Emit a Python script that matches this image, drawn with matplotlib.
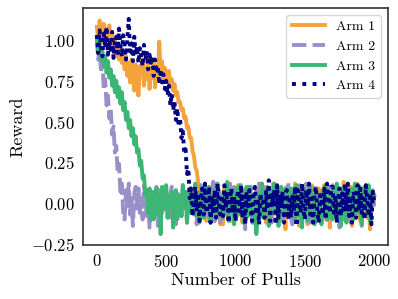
import numpy as np
import matplotlib
matplotlib.use("Agg")
import matplotlib.pyplot as plt
from matplotlib.lines import Line2D

# Computer Modern look, like the LaTeX rendered original
plt.rcParams["font.family"] = "serif"
plt.rcParams["font.serif"] = ["cmr10"]
plt.rcParams["mathtext.fontset"] = "cm"
plt.rcParams["axes.formatter.use_mathtext"] = True
plt.rcParams["axes.unicode_minus"] = True

# reward read every 10 pulls (one row = 100 pulls)
pulls = np.arange(0, 2001, 10)

arm1 = [1.08, 1.00, 1.12, 0.98, 1.05, 1.10, 0.99, 1.07, 1.02, 1.09,
        0.97, 1.04, 0.93, 1.01, 0.90, 0.97, 0.88, 0.95, 0.86, 0.93,
        0.82, 0.90, 0.78, 0.86, 0.74, 0.88, 0.80, 0.69, 0.85, 0.77,
        0.66, 0.84, 0.79, 0.88, 0.72, 0.83, 0.76, 0.90, 0.70, 0.82,
        0.77, 0.86, 0.71, 0.84, 0.78, 0.99, 0.80, 0.87, 0.75, 0.83,
        0.79, 0.74, 0.81, 0.72, 0.76, 0.69, 0.73, 0.66, 0.68, 0.62,
        0.62, 0.57, 0.58, 0.52, 0.53, 0.46, 0.47, 0.40, 0.40, 0.32,
        0.29, 0.22, 0.20, 0.13, 0.10, 0.04, 0.06, -0.05, 0.08, -0.11,
        0.01, -0.09, 0.07, -0.04, 0.13, -0.11, 0.05, -0.01, 0.08, -0.13,
        0.06, -0.13, 0.09, -0.02, 0.05, -0.08, 0.11, -0.11, 0.03, 0.07,
        0.05, -0.08, 0.11, -0.03, 0.07, -0.12, 0.02, 0.09, -0.06, 0.04,
        0.10, -0.06, 0.05, -0.12, 0.02, 0.09, -0.08, 0.06, -0.04, 0.12,
        -0.03, 0.10, -0.12, 0.04, -0.05, 0.08, -0.09, 0.12, 0.00, -0.07,
        0.07, -0.10, 0.02, 0.09, -0.07, 0.05, -0.16, 0.10, -0.03, 0.06,
        -0.10, 0.08, -0.02, 0.12, -0.07, 0.03, -0.14, 0.06, 0.10, -0.05,
        -0.07, 0.01, -0.13, 0.08, -0.03, 0.11, -0.10, 0.04, 0.07, -0.09,
        0.09, -0.06, 0.03, -0.10, 0.11, 0.02, -0.08, 0.06, -0.15, 0.07,
        0.03, 0.10, -0.05, 0.06, -0.11, 0.02, 0.09, -0.07, 0.13, -0.06,
        -0.09, 0.04, -0.05, 0.10, -0.14, 0.08, 0.01, -0.06, 0.12, -0.04,
        -0.11, 0.03, 0.08, -0.05, 0.11, -0.09, 0.04, -0.16, 0.07, -0.02,
        0.04]

arm2 = [1.00, 0.88, 0.95, 0.80, 0.86, 0.70, 0.76, 0.60, 0.66, 0.52,
        0.58, 0.42, 0.47, 0.31, 0.35, 0.19, 0.24, 0.07, 0.12, -0.06,
        -0.10, 0.08, -0.02, 0.12, -0.07, 0.03, -0.14, 0.06, 0.10, -0.05,
        0.09, -0.06, 0.03, -0.10, 0.11, 0.02, -0.08, 0.06, -0.15, 0.07,
        -0.09, 0.04, -0.05, 0.10, -0.14, 0.08, 0.01, -0.06, 0.12, -0.04,
        0.08, -0.04, -0.11, 0.05, 0.10, -0.07, 0.03, -0.13, 0.06, 0.00,
        0.05, -0.08, 0.11, -0.03, 0.07, -0.12, 0.02, 0.09, -0.06, 0.04,
        -0.07, 0.01, -0.13, 0.08, -0.03, 0.11, -0.10, 0.04, 0.07, -0.09,
        0.01, -0.09, 0.07, -0.04, 0.13, -0.11, 0.05, -0.01, 0.08, -0.13,
        -0.12, 0.05, 0.02, -0.07, 0.09, -0.10, 0.12, 0.03, -0.06, 0.10,
        -0.11, 0.03, 0.08, -0.05, 0.11, -0.09, 0.04, -0.16, 0.07, -0.02,
        -0.03, 0.10, -0.12, 0.04, -0.05, 0.08, -0.09, 0.12, 0.00, -0.07,
        -0.01, 0.09, -0.07, 0.11, -0.04, 0.05, -0.12, 0.00, 0.10, -0.08,
        0.03, 0.10, -0.05, 0.06, -0.11, 0.02, 0.09, -0.07, 0.13, -0.06,
        0.06, -0.13, 0.09, -0.02, 0.05, -0.08, 0.11, -0.11, 0.03, 0.07,
        -0.05, 0.12, -0.08, 0.02, -0.12, 0.07, 0.04, -0.09, 0.11, -0.03,
        0.07, -0.10, 0.02, 0.09, -0.07, 0.05, -0.12, 0.10, -0.03, 0.06,
        0.11, -0.09, 0.04, -0.03, 0.07, -0.15, 0.06, 0.08, -0.10, 0.02,
        0.10, -0.06, 0.05, -0.12, 0.02, 0.09, -0.08, 0.06, -0.04, 0.12,
        0.04, -0.14, 0.06, 0.10, -0.02, -0.08, 0.09, -0.05, 0.01, 0.08,
        -0.02]

arm3 = [1.02, 0.93, 0.98, 0.88, 0.93, 0.84, 0.90, 0.80, 0.87, 0.77,
        0.82, 0.72, 0.78, 0.68, 0.75, 0.65, 0.71, 0.61, 0.68, 0.57,
        0.62, 0.51, 0.56, 0.46, 0.51, 0.41, 0.46, 0.36, 0.41, 0.31,
        0.33, 0.23, 0.26, 0.15, 0.17, 0.05, 0.08, -0.06, 0.09, -0.10,
        0.07, -0.10, 0.02, 0.09, -0.07, 0.05, -0.19, 0.10, -0.03, 0.06,
        0.11, -0.09, 0.04, -0.03, 0.07, -0.15, 0.06, 0.08, -0.10, 0.02,
        0.05, -0.08, 0.11, -0.03, 0.07, -0.12, 0.02, 0.09, -0.06, 0.04,
        -0.05, 0.12, -0.08, 0.02, -0.12, 0.07, 0.04, -0.09, 0.11, -0.03,
        -0.03, 0.10, -0.12, 0.04, -0.05, 0.08, -0.09, 0.12, 0.00, -0.07,
        0.01, -0.09, 0.07, -0.04, 0.13, -0.11, 0.05, -0.01, 0.08, -0.13,
        -0.01, 0.09, -0.07, 0.11, -0.04, 0.05, -0.12, 0.00, 0.10, -0.08,
        0.10, -0.06, 0.05, -0.12, 0.02, -0.19, -0.08, 0.06, -0.04, 0.12,
        -0.09, 0.04, -0.05, 0.10, -0.14, 0.08, 0.01, -0.06, 0.12, -0.04,
        0.04, -0.14, 0.06, 0.10, -0.02, -0.08, 0.09, -0.05, 0.01, 0.08,
        0.09, -0.06, 0.03, -0.10, 0.11, 0.02, -0.08, 0.06, -0.15, 0.07,
        0.08, -0.04, -0.11, 0.05, 0.10, -0.07, 0.03, -0.13, 0.06, 0.00,
        -0.07, 0.01, -0.13, 0.08, -0.03, 0.11, -0.10, 0.04, 0.07, -0.09,
        -0.10, 0.08, -0.02, 0.12, -0.07, 0.03, -0.14, 0.06, 0.10, -0.05,
        -0.12, 0.05, 0.02, -0.07, 0.09, -0.10, 0.12, 0.03, -0.06, 0.10,
        0.06, -0.13, 0.09, -0.02, 0.05, -0.08, 0.11, -0.11, 0.03, 0.07,
        0.05]

arm4 = [1.03, 0.92, 1.06, 0.95, 0.90, 1.04, 0.97, 1.08, 0.91, 1.00,
        0.94, 1.05, 0.89, 0.99, 1.02, 0.92, 1.07, 0.96, 0.90, 1.03,
        0.97, 0.88, 1.01, 1.13, 0.93, 0.98, 0.87, 1.02, 0.91, 0.96,
        0.86, 0.95, 0.90, 0.84, 0.97, 0.88, 0.93, 0.82, 0.91, 0.86,
        0.90, 0.78, 0.88, 0.80, 0.84, 0.73, 0.82, 0.74, 0.79, 0.70,
        0.75, 0.66, 0.72, 0.60, 0.67, 0.57, 0.62, 0.51, 0.58, 0.47,
        0.52, 0.40, 0.44, 0.31, 0.33, 0.18, 0.21, 0.03, 0.09, -0.08,
        0.03, 0.10, -0.05, 0.06, -0.11, 0.02, 0.09, -0.07, 0.12, -0.06,
        -0.03, 0.10, -0.12, 0.04, -0.05, 0.08, -0.09, 0.12, 0.00, -0.07,
        0.05, -0.08, 0.11, -0.03, 0.07, -0.12, 0.02, 0.09, -0.06, 0.04,
        -0.11, 0.03, 0.08, -0.05, 0.11, -0.09, 0.04, -0.13, 0.07, -0.02,
        0.08, -0.04, -0.11, 0.05, 0.10, -0.07, 0.03, -0.13, 0.06, 0.00,
        0.01, -0.09, 0.07, -0.04, 0.14, -0.11, 0.05, -0.01, 0.08, -0.13,
        0.11, -0.09, 0.04, -0.03, 0.07, -0.12, 0.06, 0.08, -0.10, 0.02,
        -0.09, 0.04, -0.05, 0.10, -0.14, 0.08, 0.01, -0.06, 0.12, -0.04,
        -0.10, 0.08, -0.02, 0.12, -0.07, 0.03, -0.12, 0.06, 0.10, -0.05,
        -0.12, 0.05, 0.02, -0.07, 0.09, -0.10, 0.12, 0.03, -0.06, 0.10,
        0.10, -0.06, 0.05, -0.12, 0.02, 0.09, -0.08, 0.06, -0.04, 0.12,
        -0.05, 0.12, -0.08, 0.02, -0.12, 0.07, 0.04, -0.09, 0.11, -0.03,
        0.09, -0.06, 0.03, -0.10, 0.11, 0.02, -0.08, 0.06, -0.13, 0.07,
        0.01]

labels = ["Arm 1", "Arm 2", "Arm 3", "Arm 4"]
colors = ["#F4A23A", "#9A8FC8", "#3DB574", "#000080"]
styles = ["-", "--", "-", ":"]
# the raw curves are far noisier than 10-pull steps, so the dash pattern on
# the data is packed tighter than the one shown in the legend
data_styles = ["-", (0, (3.7, 1.2)), "-", (0, (1, 1.1))]

fig = plt.figure(figsize=(3.98, 2.99), dpi=100)
ax = fig.add_axes([0.2085, 0.181, 0.7665, 0.792])

for y, c, ls in zip([arm1, arm2, arm3, arm4], colors, data_styles):
    ax.plot(pulls, y, linestyle=ls, color=c, lw=2.8)

handles = [Line2D([], [], linestyle=ls, color=c, lw=2.8)
           for c, ls in zip(colors, styles)]

ax.set_xticks([0, 500, 1000, 1500, 2000])
ax.set_yticks([-0.25, 0.0, 0.25, 0.5, 0.75, 1.0])
ax.tick_params(length=0, labelsize=12, pad=6)
ax.set_xlabel("Number of Pulls", fontsize=13, labelpad=2)
ax.set_ylabel("Reward", fontsize=13, labelpad=4)
for s in ax.spines.values():
    s.set_color("#333333")
    s.set_linewidth(1.2)

ax.legend(handles, labels, loc="upper right", fontsize=10, handlelength=2.4,
          edgecolor="#cccccc", fancybox=True)

fig.savefig("out.png", dpi=100)
